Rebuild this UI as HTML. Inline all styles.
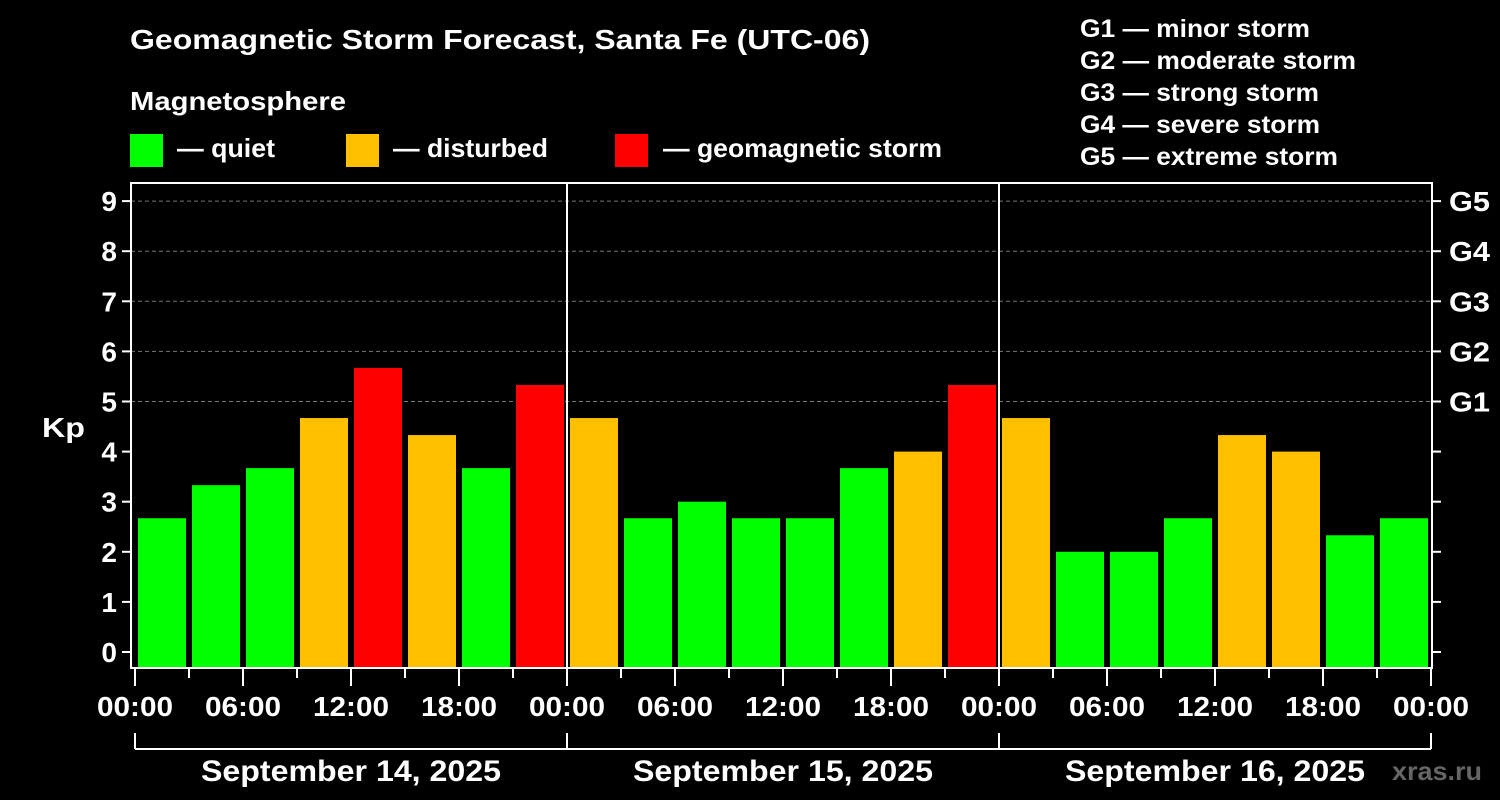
<!DOCTYPE html>
<html><head><meta charset="utf-8"><style>
html,body{margin:0;padding:0;background:#000;}
svg{display:block;font-family:"Liberation Sans",Arial,sans-serif;font-weight:bold;}
</style></head><body>
<svg id="c" width="1500" height="800" viewBox="0 0 1500 800">
<rect width="1500" height="800" fill="#000"/>
<text x="130" y="49" fill="#fff" font-size="28" textLength="740" lengthAdjust="spacingAndGlyphs">Geomagnetic Storm Forecast, Santa Fe (UTC-06)</text>
<text x="130" y="110" fill="#fff" font-size="26" textLength="216" lengthAdjust="spacingAndGlyphs">Magnetosphere</text>
<g><rect x="130" y="134" width="33" height="33" fill="#00ff00"/><text x="177" y="157" fill="#fff" font-size="26" textLength="98" lengthAdjust="spacingAndGlyphs">— quiet</text></g>
<g><rect x="346" y="134" width="33" height="33" fill="#ffc000"/><text x="393" y="157" fill="#fff" font-size="26" textLength="155" lengthAdjust="spacingAndGlyphs">— disturbed</text></g>
<g><rect x="615" y="134" width="33" height="33" fill="#ff0000"/><text x="663" y="157" fill="#fff" font-size="26" textLength="279" lengthAdjust="spacingAndGlyphs">— geomagnetic storm</text></g>
<g fill="#fff" font-size="25">
<text x="1080" y="37" textLength="230" lengthAdjust="spacingAndGlyphs">G1 — minor storm</text>
<text x="1080" y="69" textLength="276" lengthAdjust="spacingAndGlyphs">G2 — moderate storm</text>
<text x="1080" y="101" textLength="239" lengthAdjust="spacingAndGlyphs">G3 — strong storm</text>
<text x="1080" y="133" textLength="240" lengthAdjust="spacingAndGlyphs">G4 — severe storm</text>
<text x="1080" y="165" textLength="258" lengthAdjust="spacingAndGlyphs">G5 — extreme storm</text>
</g>
<text x="42" y="437" fill="#fff" font-size="28" textLength="43" lengthAdjust="spacingAndGlyphs">Kp</text>
<text x="1392" y="780" fill="#666" font-size="26" textLength="90" lengthAdjust="spacingAndGlyphs">xras.ru</text>
<g id="grid"></g><g id="bars"></g><g id="axes"></g>
</svg>
<script>
const days = ["September 14, 2025","September 15, 2025","September 16, 2025"];
const kpValues = [2.67,3.33,3.67,4.67,5.67,4.33,3.67,5.33, 4.67,2.67,3.0,2.67,2.67,3.67,4.0,5.33, 4.67,2.0,2.0,2.67,4.33,4.0,2.33,2.67];
const yTicks = [0,1,2,3,4,5,6,7,8,9];
const gLabels = ["G1","G2","G3","G4","G5"];
const xTickLabels = ["00:00","06:00","12:00","18:00"];
const NS="http://www.w3.org/2000/svg";
const L=131,R=1432,T=183,B=668,X0=135,DAYW=432;
const y=v=>652-v*50.1;
const x=h=>X0+h*(DAYW/24);
function mk(tag,at,par){const e=document.createElementNS(NS,tag);for(const k in at)e.setAttribute(k,at[k]);par.appendChild(e);return e;}
const grid=document.getElementById('grid'),bars=document.getElementById('bars'),axes=document.getElementById('axes');
gLabels.forEach((g,i)=>{const v=5+i;
 const ln=mk('line',{x1:L,x2:R,y1:y(v),y2:y(v),stroke:'#777','stroke-dasharray':'4,3','stroke-width':1},grid);
 
 
 const t=mk('text',{x:1449,y:y(v)+10,fill:'#fff','font-size':28,textLength:41,lengthAdjust:'spacingAndGlyphs'},axes);t.textContent=g;
 
 
});
kpValues.forEach((v,i)=>{
 const c=v>=5?'#ff0000':(v>=4?'#ffc000':'#00ff00');
 const r=mk('rect',{x:x(i*3)+3,y:y(v),width:48,height:B-y(v),fill:c},bars);
 
 
});
const fr=mk('rect',{x:L,y:T,width:R-L,height:B-T,fill:'none',stroke:'#fff','stroke-width':2},axes);


yTicks.forEach(v=>{
 mk('line',{x1:L-9,x2:L,y1:y(v),y2:y(v),stroke:'#fff','stroke-width':2},axes);
 mk('line',{x1:R,x2:R+9,y1:y(v),y2:y(v),stroke:'#fff','stroke-width':2},axes);
 const t=mk('text',{x:L-14,y:y(v)+10,fill:'#fff','font-size':28,'text-anchor':'end'},axes);t.textContent=v;
 
 
});
for(let d=1;d<days.length;d++){mk('line',{x1:x(d*24),x2:x(d*24),y1:T,y2:B,stroke:'#fff','stroke-width':2},axes);}
for(let h=0;h<=days.length*24;h+=3){
 const major=h%6===0;
 mk('line',{x1:x(h),x2:x(h),y1:B,y2:major?686:678,stroke:'#fff','stroke-width':2},axes);
 if(major){const t=mk('text',{x:x(h)-38,y:716,fill:'#fff','font-size':28,textLength:76,lengthAdjust:'spacingAndGlyphs'},axes);
  t.textContent=xTickLabels[(h/6)%4];
  
  }
}
mk('line',{x1:x(0),x2:x(days.length*24),y1:749,y2:749,stroke:'#fff','stroke-width':2},axes);
for(let d=0;d<=days.length;d++){mk('line',{x1:x(d*24),x2:x(d*24),y1:733,y2:749,stroke:'#fff','stroke-width':2},axes);}
days.forEach((s,d)=>{const t=mk('text',{x:x(d*24+12)-150,y:781,fill:'#fff','font-size':30,textLength:300,lengthAdjust:'spacingAndGlyphs'},axes);t.textContent=s;
 
 });
</script>
</body></html>
